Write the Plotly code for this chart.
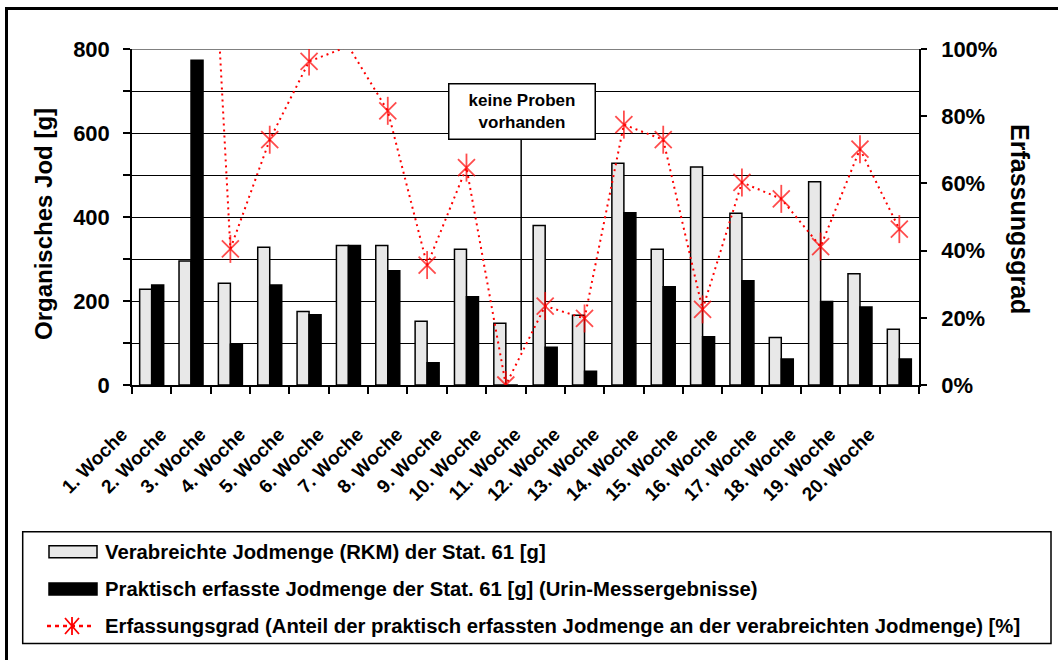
import plotly.graph_objects as go

# ---------------- data ----------------
weeks = [f"{i}. Woche" for i in range(1, 21)]
verabreicht = [228, 295, 242, 328, 175, 332, 332, 152, 323, 147,
               380, 166, 528, 323, 519, 409, 113, 484, 265, 133]
erfasst = [238, 773, 97, 238, 167, 332, 272, 53, 210, 0,
           90, 33, 410, 234, 115, 248, 62, 199, 186, 62]
erfassungsgrad = [104, 262, 40.5, 73, 96.3, 100.8, 81.6, 35.7, 64.7, 0,
                  23.5, 19.8, 77.5, 73, 22.5, 60.3, 55.4, 41.2, 70.2, 46.4]

left_ticks = [0, 200, 400, 600, 800]
right_ticks = [0, 20, 40, 60, 80, 100]
right_labels = ["0%", "20%", "40%", "60%", "80%", "100%"]

legend_names = [
    "Verabreichte Jodmenge (RKM) der Stat. 61 [g]",
    "Praktisch erfasste Jodmenge der Stat. 61 [g] (Urin-Messergebnisse)",
    "Erfassungsgrad (Anteil der praktisch erfassten Jodmenge an der verabreichten Jodmenge) [%]",
]

# ---------------- layout geometry ----------------
W, H = 1058, 660
ML, MR, MT, MB = 132, 139, 49, 275
PW = W - ML - MR
PH = H - MT - MB


def px(x):
    return (x - ML) / PW


def py(y):
    return (H - MB - y) / PH


FONT = "Liberation Sans, Arial, sans-serif"
GREY = "#e8e8e8"
RED = "#ff0000"

fig = go.Figure()

fig.add_trace(go.Bar(
    x=weeks, y=verabreicht, name=legend_names[0],
    marker=dict(color=GREY, line=dict(color="black", width=1.5)),
    showlegend=False,
))
fig.add_trace(go.Bar(
    x=weeks, y=erfasst, name=legend_names[1],
    marker=dict(color="black", line=dict(color="black", width=1.5)),
    showlegend=False,
))

msize_x = [0 if v > 100 else 17 for v in erfassungsgrad]
msize_l = [0 if v > 100 else 20 for v in erfassungsgrad]

fig.add_trace(go.Scatter(
    x=weeks, y=erfassungsgrad, yaxis="y2", name=legend_names[2],
    mode="lines+markers",
    line=dict(color=RED, width=2, dash="2px,4px"),
    marker=dict(symbol="x-thin-open", size=msize_x, color=RED,
                line=dict(color=RED, width=1.8)),
    showlegend=False,
))
fig.add_trace(go.Scatter(
    x=weeks, y=erfassungsgrad, yaxis="y2",
    mode="markers",
    marker=dict(symbol="line-ns-open", size=msize_l, color=RED,
                line=dict(color=RED, width=1.8)),
    showlegend=False, hoverinfo="skip",
))

shapes = []
annotations = []

# outer frame (right and bottom edges lie outside the picture)
shapes.append(dict(type="rect", xref="paper", yref="paper",
                   x0=px(6.5), x1=px(1300), y0=py(8.5), y1=py(900),
                   line=dict(color="black", width=3), layer="above"))
# grey top border of plot area
shapes.append(dict(type="line", xref="paper", yref="y",
                   x0=0, x1=1, y0=800, y1=800,
                   line=dict(color="#808080", width=2), layer="between"))

# "keine Proben vorhanden" callout
shapes.append(dict(type="line", xref="x", yref="y",
                   x0=9.39, x1=9.39, y0=83, y1=586,
                   line=dict(color="black", width=1.5), layer="above"))
annotations.append(dict(
    x=9.41, y=652, xref="x", yref="y",
    text="keine Proben<br>vorhanden", showarrow=False,
    font=dict(family=FONT, size=17, color="black", weight="bold"),
    bgcolor="white", bordercolor="black", borderwidth=1.5,
    width=143, height=52, borderpad=1,
))

# axis titles
annotations.append(dict(
    x=px(44), y=py(224), xref="paper", yref="paper",
    text="Organisches Jod [g]", textangle=-90, showarrow=False,
    font=dict(family=FONT, size=24, color="black", weight="bold"),
    xanchor="center", yanchor="middle",
))
annotations.append(dict(
    x=px(1020), y=py(219), xref="paper", yref="paper",
    text="Erfassungsgrad", textangle=90, showarrow=False,
    font=dict(family=FONT, size=25, color="black", weight="bold"),
    xanchor="center", yanchor="middle",
))

# custom legend
shapes.append(dict(type="rect", xref="paper", yref="paper",
                   x0=px(22.7), x1=px(1051), y0=py(531.7), y1=py(643.5),
                   line=dict(color="black", width=1.5), fillcolor="white",
                   layer="below"))
rows = [551.7, 589, 626]
shapes.append(dict(type="rect", xref="paper", yref="paper",
                   x0=px(49), x1=px(97), y0=py(rows[0] - 6), y1=py(rows[0] + 6),
                   line=dict(color="black", width=1.5), fillcolor=GREY))
shapes.append(dict(type="rect", xref="paper", yref="paper",
                   x0=px(49), x1=px(97), y0=py(rows[1] - 6), y1=py(rows[1] + 6),
                   line=dict(color="black", width=1.5), fillcolor="black"))
shapes.append(dict(type="line", xref="paper", yref="paper",
                   x0=px(47), x1=px(95), y0=py(rows[2]), y1=py(rows[2]),
                   line=dict(color=RED, width=2.5, dash="4px,4px")))
cx, cy = 72, rows[2]
star = (f"M{px(cx-7)},{py(cy-8)} L{px(cx+7)},{py(cy+8)} "
        f"M{px(cx-7)},{py(cy+8)} L{px(cx+7)},{py(cy-8)} "
        f"M{px(cx)},{py(cy-9)} L{px(cx)},{py(cy+9)}")
shapes.append(dict(type="path", xref="paper", yref="paper", path=star,
                   line=dict(color=RED, width=1.8)))
for name, ry in zip(legend_names, rows):
    annotations.append(dict(
        x=px(103), y=py(ry), xref="paper", yref="paper",
        text=name, showarrow=False, xanchor="left", yanchor="middle",
        font=dict(family=FONT, size=20.3, color="black", weight="bold"),
    ))

fig.update_layout(
    width=W, height=H,
    margin=dict(l=ML, r=MR, t=MT, b=MB, autoexpand=False),
    paper_bgcolor="white", plot_bgcolor="white",
    barmode="group", bargap=0.39, bargroupgap=0,
    showlegend=False,
    font=dict(family=FONT, color="black"),
    xaxis=dict(
        type="category", range=[-0.5, 19.5], tickson="boundaries",
        ticks="outside", ticklen=7, tickwidth=1.5, tickcolor="black",
        showline=True, linecolor="black", linewidth=1.5,
        showgrid=False, tickangle=-45,
        tickfont=dict(family=FONT, size=19, color="black", weight="bold"),
        ticklabelstandoff=29, ticklabelshift=-30,
    ),
    yaxis=dict(
        range=[0, 800], tickvals=left_ticks,
        ticks="outside", ticklen=7, tickwidth=1.5, tickcolor="black",
        showline=True, linecolor="black", linewidth=1.5,
        showgrid=True, gridcolor="black", gridwidth=1,
        zeroline=False,
        minor=dict(dtick=100, ticks="outside", ticklen=7, tickwidth=1.5,
                   tickcolor="black", showgrid=True, gridcolor="black",
                   gridwidth=1),
        tickfont=dict(family=FONT, size=22, color="black", weight="bold"),
        ticklabelstandoff=9,
    ),
    yaxis2=dict(
        range=[0, 100], tickvals=right_ticks, ticktext=right_labels,
        overlaying="y", side="right",
        ticks="outside", ticklen=6, tickwidth=1.5, tickcolor="black",
        showline=True, linecolor="black", linewidth=1.5,
        showgrid=False, zeroline=False,
        tickfont=dict(family=FONT, size=22, color="black", weight="bold"),
        ticklabelstandoff=10,
    ),
    shapes=shapes,
    annotations=annotations,
)

fig.write_html("out.html")
